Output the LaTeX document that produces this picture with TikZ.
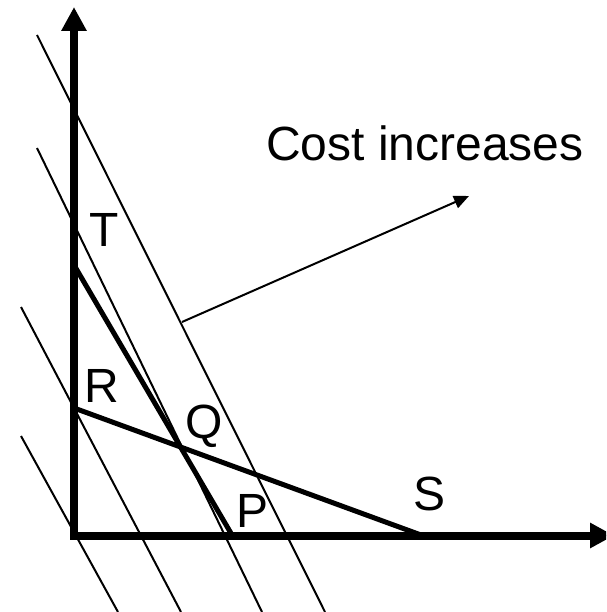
\documentclass[tikz,border=0pt]{standalone}
\usepackage{fontspec}
\setmainfont{Liberation Sans}
\usetikzlibrary{arrows.meta}
\begin{document}
\begin{tikzpicture}[x=1pt,y=-1pt,
  axis/.style={line width=8pt,-{Triangle[length=24pt,width=24pt]}},
  thickline/.style={line width=5pt},
  isoline/.style={line width=2pt},
  costarrow/.style={line width=2pt,-{Triangle[length=15pt,width=13pt]}},
  lbl/.style={font=\fontsize{48}{58}\selectfont,inner sep=0pt}]
\clip (0,0) rectangle (606,612);
\fill[white] (0,0) rectangle (606,612);
% iso-cost lines
\coordinate (a1) at (37,35);  \coordinate (a2) at (325,612);
\coordinate (b1) at (37,148); \coordinate (b2) at (262,612);
\coordinate (c1) at (21,307); \coordinate (c2) at (181,612);
\coordinate (d1) at (21,436); \coordinate (d2) at (118,612);
\draw[isoline] (a1) -- (a2);
\draw[isoline] (b1) -- (b2);
\draw[isoline] (c1) -- (c2);
\draw[isoline] (d1) -- (d2);
% axes
\coordinate (O1) at (74,539.5); \coordinate (Ytip) at (74,7);
\coordinate (O2) at (70,535.5); \coordinate (Xtip) at (614,535.5);
\draw[axis] (O1) -- (Ytip);
\draw[axis] (O2) -- (Xtip);
% constraint lines
\coordinate (T) at (74,265); \coordinate (P) at (232,535);
\coordinate (R) at (74,408); \coordinate (S) at (421,535);
\draw[thickline] (T) -- (P);
\draw[thickline] (R) -- (S);
% cost arrow
\coordinate (c0) at (182,322); \coordinate (c9) at (469,196);
\draw[costarrow] (c0) -- (c9);
% labels
\node[lbl,anchor=base west] (cost) at (266,161) {Cost increases};
\node[lbl] (lT) at (104,230) {T};
\node[lbl] (lR) at (102,386) {R};
\node[lbl] (lQ) at (204,426) {Q};
\node[lbl] (lP) at (253,511) {P};
\node[lbl] (lS) at (429,494) {S};
\end{tikzpicture}
\end{document}
